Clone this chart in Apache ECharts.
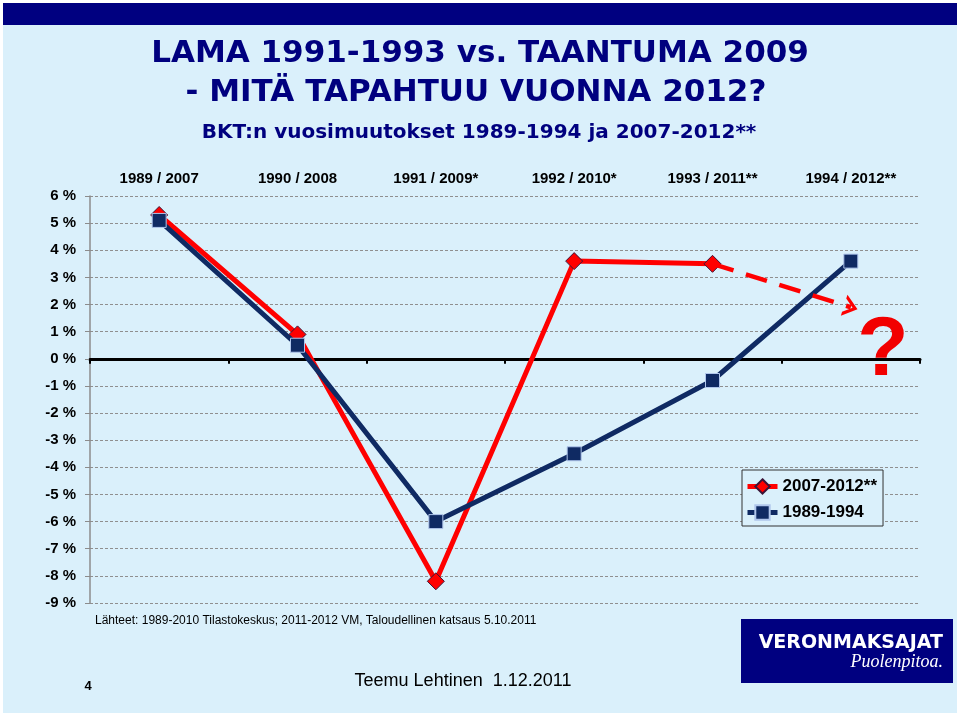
<!DOCTYPE html>
<html>
<head>
<meta charset="utf-8">
<script src="https://cdn.jsdelivr.net/npm/echarts@6/dist/echarts.min.js"></script>
<style>
  html, body { margin: 0; padding: 0; background: #ffffff; }
  #chart { width: 960px; height: 716px; }
</style>
</head>
<body>
<div id="chart"></div>
<script>
// ---- data ----
const categories = ['1989 / 2007', '1990 / 2008', '1991 / 2009*', '1992 / 2010*', '1993 / 2011**', '1994 / 2012**'];
const seriesNames = ['2007-2012**', '1989-1994'];
const values2007 = [5.3, 0.9, -8.2, 3.6, 3.5, null];
const values1989 = [5.1, 0.5, -6.0, -3.5, -0.8, 3.6];
// dashed forecast arrow: from 2011 value towards 2012
const arrowCategories = ['1993 / 2011**', '1994 / 2012**'];
const arrowValues = [3.5, 1.9];
const yMin = -9, yMax = 6, yStep = 1;

const titleLine1 = 'LAMA 1991-1993 vs. TAANTUMA 2009';
const titleLine2 = '- MITÄ TAPAHTUU VUONNA 2012?';
const subtitle = 'BKT:n vuosimuutokset 1989-1994 ja 2007-2012**';
const sourceText = 'Lähteet: 1989-2010 Tilastokeskus; 2011-2012 VM, Taloudellinen katsaus 5.10.2011';
const footerText = 'Teemu Lehtinen  1.12.2011';
const pageNumber = '4';
const logoLine1 = 'VERONMAKSAJAT';
const logoLine2 = 'Puolenpitoa.';

// ---- styles ----
const ARIAL = 'Liberation Sans, Arial, Helvetica, sans-serif';
const WIDE = 'DejaVu Sans, Verdana, sans-serif';
const NAVY = '#00007f';
const RED = '#ff0000';
const BLUE = '#0f2a63';
const BG = '#daf0fb';
const chevron = 'path://M0,14 L11,0 L22,14 L18,14 L11,5.2 L4,14 Z';

const chart = echarts.init(document.getElementById('chart'), null, { renderer: 'canvas' });

chart.setOption({
  backgroundColor: '#ffffff',
  animation: false,
  grid: { left: 90, right: 40, top: 196, bottom: 113, containLabel: false },
  legend: {
    data: seriesNames,
    orient: 'vertical',
    left: 742,
    top: 470,
    width: 141,
    padding: [8, 6, 5, 3],
    itemGap: 9,
    itemWidth: 30,
    itemHeight: 18,
    backgroundColor: BG,
    borderColor: '#333333',
    borderWidth: 1,
    lineStyle: { width: 5 },
    textStyle: { fontFamily: ARIAL, fontSize: 17, fontWeight: 'bold', color: '#000' },
    z: 20
  },
  xAxis: [
    {
      type: 'category',
      data: categories,
      position: 'top',
      boundaryGap: true,
      axisLine: { show: false, onZero: false },
      axisTick: { show: false },
      splitLine: { show: false },
      axisLabel: { fontFamily: ARIAL, fontSize: 15, fontWeight: 'bold', color: '#000', margin: 10, interval: 0 }
    },
    {
      type: 'category',
      data: categories,
      position: 'bottom',
      boundaryGap: true,
      axisLine: { show: true, onZero: true, onZeroAxisIndex: 0, lineStyle: { color: '#000', width: 3 } },
      axisTick: { show: true, length: 5, lineStyle: { color: '#000', width: 2 } },
      axisLabel: { show: false },
      splitLine: { show: false }
    }
  ],
  yAxis: {
    type: 'value',
    min: yMin,
    max: yMax,
    interval: yStep,
    axisLine: { show: true, onZero: false, lineStyle: { color: '#8c8c8c', width: 1.5 } },
    axisTick: { show: true, length: 5, lineStyle: { color: '#8c8c8c' } },
    splitLine: { show: true, lineStyle: { color: '#8f8f8f', width: 1, type: [3, 2] } },
    axisLabel: {
      fontFamily: ARIAL, fontSize: 15, fontWeight: 'bold', color: '#000', margin: 14,
      formatter: v => v + ' %'
    }
  },
  series: [
    {
      name: seriesNames[0],
      type: 'line',
      xAxisIndex: 0,
      data: values2007,
      connectNulls: false,
      symbol: 'diamond',
      symbolSize: 17,
      lineStyle: { color: RED, width: 5 },
      itemStyle: { color: RED, borderColor: '#3b1538', borderWidth: 1 },
      z: 3,
      markLine: {
        silent: true,
        symbol: ['none', chevron],
        symbolSize: [22, 14],
        label: { show: false },
        lineStyle: { color: RED, width: 4.5, type: [22, 13], opacity: 1 },
        emphasis: { disabled: true },
        data: [[
          { coord: [arrowCategories[0], arrowValues[0]] },
          { coord: [arrowCategories[1], arrowValues[1]] }
        ]]
      }
    },
    {
      name: seriesNames[1],
      type: 'line',
      xAxisIndex: 0,
      data: values1989,
      symbol: 'rect',
      symbolSize: 14,
      lineStyle: { color: BLUE, width: 5 },
      itemStyle: { color: BLUE, borderColor: '#b0c6ec', borderWidth: 1 },
      z: 4
    }
  ],
  graphic: [
    // slide frame
    { type: 'rect', silent: true, z: -100, shape: { x: 3, y: 3, width: 954, height: 710 }, style: { fill: BG } },
    { type: 'rect', silent: true, z: -90, shape: { x: 3, y: 3, width: 954, height: 22 }, style: { fill: '#000080' } },
    // titles
    { type: 'text', silent: true, x: 480, y: 54, style: { text: titleLine1, font: 'bold 31px ' + WIDE, fill: NAVY, align: 'center', verticalAlign: 'middle' } },
    { type: 'text', silent: true, x: 476, y: 93, style: { text: titleLine2, font: 'bold 31px ' + WIDE, fill: NAVY, align: 'center', verticalAlign: 'middle' } },
    { type: 'text', silent: true, x: 479, y: 133, style: { text: subtitle, font: 'bold 20px ' + WIDE, fill: NAVY, align: 'center', verticalAlign: 'middle' } },
    // question mark
    { type: 'text', silent: true, z: 50, x: 883, y: 352, style: { text: '?', font: 'bold 84px ' + ARIAL, fill: '#f20000', align: 'center', verticalAlign: 'middle' } },
    // source
    { type: 'text', silent: true, x: 95, y: 621, style: { text: sourceText, font: '12px ' + ARIAL, fill: '#000', align: 'left', verticalAlign: 'middle' } },
    // footer
    { type: 'text', silent: true, x: 88, y: 686, style: { text: pageNumber, font: 'bold 13px ' + ARIAL, fill: '#000', align: 'center', verticalAlign: 'middle' } },
    { type: 'text', silent: true, x: 463, y: 681, style: { text: footerText, font: '18px ' + ARIAL, fill: '#000', align: 'center', verticalAlign: 'middle' } },
    // logo
    { type: 'rect', silent: true, shape: { x: 741, y: 619, width: 212, height: 64 }, style: { fill: '#000080' } },
    { type: 'text', silent: true, x: 943, y: 643, style: { text: logoLine1, font: 'bold 19px ' + WIDE, fill: '#ffffff', align: 'right', verticalAlign: 'middle' } },
    { type: 'text', silent: true, x: 943, y: 662, style: { text: logoLine2, font: 'italic 18px Liberation Serif, Georgia, serif', fill: '#ffffff', align: 'right', verticalAlign: 'middle' } }
  ]
});
</script>
</body>
</html>
